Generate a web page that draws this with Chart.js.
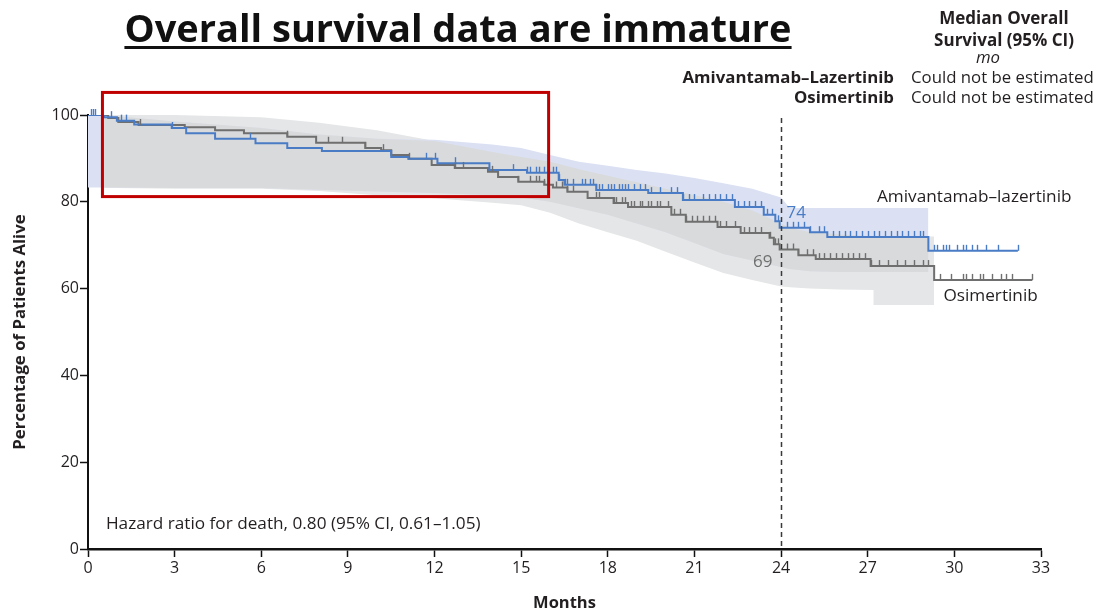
<!DOCTYPE html>
<html>
<head>
<meta charset="utf-8">
<script src="https://cdn.jsdelivr.net/npm/chart.js@4.4.0/dist/chart.umd.min.js"></script>
<style>
  html, body { margin: 0; padding: 0; background: #fff; }
  #wrap { position: relative; width: 1099px; height: 613px; overflow: hidden; }
  #osChart { position: absolute; left: 0; top: 0; }
  #title {
    position: absolute; left: 0; width: 916px; top: 1px; line-height: 38px;
    text-align: center; font: bold 38px "Open Sans", sans-serif; color: #111;
    text-decoration: underline; text-decoration-thickness: 3px; text-underline-offset: 4px;
  }
  .med { position: absolute; font-family: "Open Sans", sans-serif; font-size: 16.8px; color: #231f20; line-height: 20px; white-space: nowrap; }
  .hdr { left: 904px; width: 200px; text-align: center; font-weight: bold; font-size: 17px; }
  .lab { right: 205px; text-align: right; font-weight: bold; }
  .val { left: 911px; }
</style>
</head>
<body>
<div id="wrap">
  <canvas id="osChart" width="1099" height="613"></canvas>
  <div id="title">Overall survival data are immature</div>
  <div class="med hdr" style="top:8px">Median Overall</div>
  <div class="med hdr" style="top:30px">Survival (95% CI)</div>
  <div class="med" style="top:47px;left:888px;width:200px;text-align:center;font-style:italic">mo</div>
  <div class="med lab" style="top:67px">Amivantamab–Lazertinib</div>
  <div class="med val" style="top:67px">Could not be estimated</div>
  <div class="med lab" style="top:87px">Osimertinib</div>
  <div class="med val" style="top:87px">Could not be estimated</div>
</div>
<script>
// Kaplan-Meier steps (months, % alive)
const amiTimes = [0, 0.55, 1.0, 1.6, 2.9, 3.4, 4.4, 5.8, 6.9, 8.1, 10.5, 11.1, 12.1, 13.9, 15.2, 16.3, 16.5, 17.6, 19.4, 20.6, 22.4, 23.4, 23.8, 23.95, 25.0, 25.6, 29.1, 32.2];
const amiSurv  = [100, 99.5, 98.7, 97.8, 97.0, 95.8, 94.5, 93.5, 92.4, 91.7, 90.3, 89.9, 88.9, 87.3, 86.7, 85.0, 83.9, 82.7, 82.0, 80.4, 78.8, 77.0, 75.5, 74.0, 73.0, 71.9, 68.7, 68.7];

const osiTimes = [0, 0.7, 1.05, 1.75, 3.35, 4.4, 5.4, 6.9, 7.9, 9.6, 10.15, 10.5, 11.1, 11.9, 12.7, 13.85, 14.2, 14.9, 15.8, 16.1, 16.6, 17.3, 18.2, 18.7, 20.2, 20.7, 21.8, 22.6, 23.6, 23.75, 23.95, 24.6, 25.2, 27.1, 29.3, 32.7];
const osiSurv  = [100, 99.3, 98.4, 97.7, 97.2, 96.5, 95.8, 95.0, 93.6, 92.4, 91.9, 90.8, 89.9, 88.5, 87.8, 86.9, 85.7, 84.6, 83.9, 83.3, 82.3, 80.9, 79.7, 78.8, 77.0, 75.4, 74.2, 72.8, 71.7, 70.2, 69.0, 67.7, 66.8, 65.2, 62.0, 62.0];

// censored observations (months)
const amiCensor = [0.1, 0.18, 0.25, 0.8, 1.15, 1.3, 2.9, 5.6, 11.7, 12.0, 12.7, 14.7, 15.2, 15.3, 15.5, 15.6, 15.8,
  16.1, 16.2, 16.3, 16.5, 16.6, 16.8, 17.1, 17.2, 17.4, 17.5, 17.6, 17.7, 17.8, 18.0, 18.1, 18.2, 18.4, 18.5, 18.6, 18.7,
  18.9, 19.1, 19.3, 19.5, 19.8, 20.2, 20.4, 20.6, 20.8, 21.0, 21.3, 21.5, 21.7, 21.9, 22.1, 22.3, 22.5, 22.7, 22.9, 23.1,
  23.3, 23.5, 23.7, 23.9, 24.2, 24.4, 24.6, 24.8, 25.0, 25.3, 25.5, 25.8, 26.0, 26.2, 26.4, 26.6, 26.8, 27.0, 27.2, 27.4,
  27.6, 27.8, 28.0, 28.2, 28.4, 28.6, 28.8, 28.9, 29.3, 29.4, 29.6, 29.7, 29.8, 30.1, 30.3, 30.4, 30.6, 30.8, 31.1, 31.5, 32.2];
const osiCensor = [1.8, 6.9, 8.3, 8.8, 9.6, 10.2, 11.1, 12.7, 13.0, 14.0, 14.9, 15.3, 15.5, 15.6, 15.8, 16.2, 16.4, 16.6,
  16.8, 17.6, 17.7, 18.2, 18.3, 18.5, 18.6, 18.8, 18.9, 19.1, 19.2, 19.4, 19.5, 19.7, 19.8, 20.1, 20.3, 20.5, 20.7, 20.9,
  21.1, 21.3, 21.5, 21.7, 21.9, 22.1, 22.4, 22.7, 22.9, 23.1, 23.3, 23.6, 23.8, 23.9, 24.2, 24.4, 24.6, 24.9, 25.1, 25.3,
  25.5, 25.7, 25.9, 26.1, 26.3, 26.5, 26.7, 26.9, 27.1, 27.4, 27.7, 28.0, 28.3, 28.6, 28.9, 29.1, 29.5, 29.9, 30.3, 30.4,
  30.6, 30.9, 31.0, 31.3, 31.6, 31.8, 32.0, 32.7];

// 95% confidence bands
const bandTimes = [0, 0.5, 1, 3, 6, 8, 10, 12, 14, 15, 16, 17, 18, 19, 20, 21, 22, 23, 24, 24.3, 25, 26, 27.2, 27.2, 29.1, 29.3];
const amiUpper  = [100, 100, 99.7, 98.5, 97, 95.5, 94.5, 94.3, 93.2, 92.4, 90.8, 89.2, 88.3, 87.3, 86.5, 85.5, 84.3, 83, 81, 78.6, 78.6, 78.6, 78.6, 78.6, 78.6, null];
const amiLower  = [83.3, 83.3, 83.3, 83.2, 83.2, 82.8, 82.4, 82, 81.5, 81, 80, 78.5, 77, 75, 73, 70.5, 68, 66.5, 65, 64.5, 64, 63.8, 63.8, 63.8, 63.8, null];
const osiUpper  = [null, 100, 100, 100, 99.5, 98.2, 96.5, 94, 91.5, 90.3, 89.2, 87.5, 86, 84.5, 83, 81.5, 80, 78, 75, 74, 73, 72.5, 72, 72, 72, 72];
const osiLower  = [null, 83.3, 83.2, 83, 83, 82.5, 81.5, 80.8, 79.8, 79.2, 77.5, 75, 73, 71, 68.5, 66, 63.6, 62, 60.5, 60.3, 60, 59.8, 59.7, 56.2, 56.2, 56.2];

const xTicks = [0, 3, 6, 9, 12, 15, 18, 21, 24, 27, 30, 33];
const yTicks = [0, 20, 40, 60, 80, 100];

const amiColor = '#4a7cc6';
const osiColor = '#6f6f6f';
const fontFamily = '"Open Sans", sans-serif';

function survAt(times, surv, t) {
  let v = surv[0];
  for (let i = 0; i < times.length; i++) {
    if (times[i] <= t) v = surv[i];
  }
  return v;
}

function toPoints(xs, ys) {
  return xs.map((t, i) => ({ x: t, y: ys[i] }));
}

// region where both bands overlap
const bothUpper = bandTimes.map((t, i) =>
  amiUpper[i] == null || osiUpper[i] == null ? null : Math.min(amiUpper[i], osiUpper[i]));
const bothLower = bandTimes.map((t, i) =>
  amiLower[i] == null || osiLower[i] == null ? null : Math.max(amiLower[i], osiLower[i]));

function bandLine(data, fill, color, order) {
  return {
    data: toPoints(bandTimes, data),
    borderWidth: 0, pointRadius: 0, fill: fill, backgroundColor: color,
    order: order, spanGaps: false
  };
}

function drawCensors(ctx, x, y, censor, times, surv, color) {
  ctx.strokeStyle = color;
  ctx.lineWidth = 1.4;
  censor.forEach(t => {
    const px = Math.round(x.getPixelForValue(t)) + 0.5;
    const py = y.getPixelForValue(survAt(times, surv, t));
    ctx.beginPath();
    ctx.moveTo(px, py);
    ctx.lineTo(px, py - 6);
    ctx.stroke();
  });
}

const annotate = {
  id: 'annotate',
  afterDatasetsDraw(chart) {
    const { ctx, scales: { x, y } } = chart;
    ctx.save();
    drawCensors(ctx, x, y, osiCensor, osiTimes, osiSurv, osiColor);
    drawCensors(ctx, x, y, amiCensor, amiTimes, amiSurv, amiColor);

    // 24-month landmark
    const x24 = Math.round(x.getPixelForValue(24)) + 0.5;
    ctx.strokeStyle = '#3a3a3a';
    ctx.lineWidth = 1.5;
    ctx.setLineDash([5, 4]);
    ctx.beginPath();
    ctx.moveTo(x24, y.getPixelForValue(99.3));
    ctx.lineTo(x24, y.getPixelForValue(0));
    ctx.stroke();
    ctx.setLineDash([]);

    ctx.font = '17px ' + fontFamily;
    ctx.textBaseline = 'middle';
    ctx.fillStyle = amiColor;
    ctx.textAlign = 'left';
    ctx.fillText('74', x24 + 5, y.getPixelForValue(74) - 15);
    ctx.fillStyle = osiColor;
    ctx.textAlign = 'right';
    ctx.fillText('69', x24 - 9, y.getPixelForValue(69) + 13);

    ctx.fillStyle = '#231f20';
    ctx.textAlign = 'left';
    ctx.font = '17.2px ' + fontFamily;
    ctx.fillText('Amivantamab–lazertinib', x.getPixelForValue(27.32), y.getPixelForValue(81.1));
    ctx.fillText('Osimertinib', x.getPixelForValue(29.62), y.getPixelForValue(58.3));

    ctx.font = '17.2px ' + fontFamily;
    ctx.fillText('Hazard ratio for death, 0.80 (95% CI, 0.61–1.05)', x.getPixelForValue(0.62), y.getPixelForValue(5.8));

    // highlight box around the first 16 months
    ctx.strokeStyle = '#c00000';
    ctx.lineWidth = 3;
    const bx0 = x.getPixelForValue(0.5), bx1 = x.getPixelForValue(15.95);
    const by0 = y.getPixelForValue(105.2), by1 = y.getPixelForValue(81.2);
    ctx.strokeRect(bx0, by0, bx1 - bx0, by1 - by0);
    ctx.restore();
  }
};

new Chart(document.getElementById('osChart'), {
  type: 'line',
  data: {
    datasets: [
      bandLine(osiUpper, '+1', '#e5e6e7', 10),
      bandLine(osiLower, false, 'transparent', 10),
      bandLine(amiUpper, '+1', '#dbe1f2', 9),
      bandLine(amiLower, false, 'transparent', 9),
      bandLine(bothUpper, '+1', '#d9dadb', 8),
      bandLine(bothLower, false, 'transparent', 8),
      {
        label: 'Osimertinib',
        data: toPoints(osiTimes, osiSurv),
        borderColor: osiColor, borderWidth: 2, pointRadius: 0,
        stepped: true, fill: false, order: 2
      },
      {
        label: 'Amivantamab–lazertinib',
        data: toPoints(amiTimes, amiSurv),
        borderColor: amiColor, borderWidth: 2, pointRadius: 0,
        stepped: true, fill: false, order: 1
      }
    ]
  },
  options: {
    responsive: false,
    animation: false,
    events: [],
    layout: { padding: { top: 115, right: 58, left: 0, bottom: 0 } },
    plugins: {
      legend: { display: false },
      tooltip: { enabled: false },
      title: { display: false }
    },
    scales: {
      x: {
        type: 'linear', min: 0, max: 33,
        afterBuildTicks: s => { s.ticks = xTicks.map(v => ({ value: v })); },
        afterFit: s => { s.height = 64; },
        ticks: { font: { family: fontFamily, size: 16 }, color: '#231f20', padding: 2, maxRotation: 0 },
        grid: { drawOnChartArea: false, drawTicks: true, tickLength: 8, tickWidth: 1.5, tickColor: '#111' },
        border: { color: '#111', width: 2.5 },
        title: { display: true, text: 'Months', color: '#231f20', font: { family: fontFamily, size: 16.5, weight: 'bold' }, padding: { top: 0, bottom: 0 } }
      },
      y: {
        type: 'linear', min: 0, max: 100,
        afterBuildTicks: s => { s.ticks = yTicks.map(v => ({ value: v })); },
        afterFit: s => { s.width = 88; },
        ticks: { font: { family: fontFamily, size: 16 }, color: '#231f20', padding: 1 },
        grid: { drawOnChartArea: false, drawTicks: true, tickLength: 8, tickWidth: 1.5, tickColor: '#111' },
        border: { color: '#111', width: 2 },
        title: { display: true, text: 'Percentage of Patients Alive', color: '#231f20', font: { family: fontFamily, size: 16.8, weight: 'bold' }, padding: { top: 10, bottom: 0 } }
      }
    }
  },
  plugins: [annotate]
});
</script>
</body>
</html>
